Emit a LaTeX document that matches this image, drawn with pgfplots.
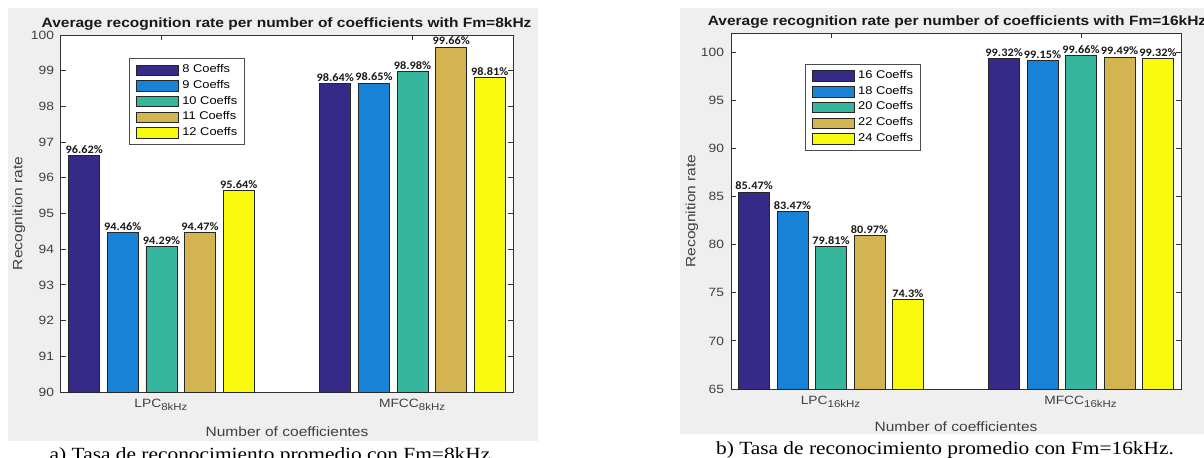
\documentclass[border=0pt]{standalone}
\usepackage{pgfplots}
\pgfplotsset{compat=1.18}
\usepackage{fontspec}
\setmainfont{Liberation Sans}[FakeStretch=1.15]
\newfontfamily\capfont{Liberation Serif}[FakeStretch=1.15]
\newfontfamily\valfont{Carlito}[FakeStretch=1.08]

\definecolor{c1}{RGB}{53,42,135}
\definecolor{c2}{RGB}{24,130,214}
\definecolor{c3}{RGB}{54,183,157}
\definecolor{c4}{RGB}{212,180,80}
\definecolor{c5}{RGB}{249,250,14}
\definecolor{bgc}{RGB}{239,239,239}
\definecolor{axc}{RGB}{50,50,50}

\pgfplotsset{
  mybars/.style={
    scale only axis,
    axis background/.style={fill=white},
    xmin=0.6, xmax=2.4, xtick={1,2},
    tick align=inside, major tick length=2.5pt,
    axis line style={axc, line width=0.5pt},
    tick style={axc, line width=0.5pt},
    tick label style={font=\fontsize{6}{7}\selectfont, text=black!75},
    /pgf/number format/assume math mode=true,
    label style={font=\fontsize{6.75}{8}\selectfont, text=black!75},
    legend cell align=left,
    legend style={draw=black!70, line width=0.5pt, fill=white,
      font=\fontsize{5.6}{6.5}\selectfont, inner xsep=3.2pt, inner ysep=2.4pt,
      row sep=1.1pt, column sep=1.2pt, nodes={inner sep=0.6pt}},
    nodes near coords={\pgfmathprintnumber[fixed,precision=2]{\pgfplotspointmeta}\%},
    point meta=explicit,
    nodes near coords style={font=\valfont\bfseries\fontsize{5.7}{6}\selectfont,
      text=black!90, inner sep=0.9pt, anchor=south},
  },
  sb/.style={ybar, bar width=0.1236, bar shift=0pt, fill=#1,
    draw=black!85, line width=0.4pt, forget plot},
  lg/.style={legend image code/.code={\draw[fill=#1, draw=black!85, line width=0.4pt]
      (0pt,-2.6pt) rectangle (21pt,2.6pt);}},
}

\begin{document}
\begin{tikzpicture}
\fill[white] (0pt,0pt) rectangle (602pt,228.5pt);
\useasboundingbox (0pt,0pt) rectangle (602pt,228.5pt);
\fill[bgc] (4pt,8pt) rectangle (269pt,224.5pt);
\fill[bgc] (340pt,11.5pt) rectangle (602pt,224.5pt);

% ---------- left panel ----------
\begin{axis}[mybars,
  at={(30.5pt,32.5pt)}, anchor=south west,
  width=226pt, height=178.5pt,
  ymin=90, ymax=100, ytick={90,91,...,100},
  xticklabels={LPC\textsubscript{8kHz}, MFCC\textsubscript{8kHz}},
  xlabel={Number of coefficientes},
  ylabel={Recognition rate},
  xlabel style={at={(axis description cs:0.5,0)}, anchor=center, yshift=-20pt},
  ylabel style={at={(axis description cs:-0.093,0.5)}, anchor=center},
  legend style={at={(0.1505,0.935)}, anchor=north west},
]
% bars of each group sit at group +/- 0.1538*k
\addplot[sb=c1] coordinates {(0.6924,96.62) [96.62] (1.6924,98.64) [98.64]};
\addplot[sb=c2] coordinates {(0.8462,94.46) [94.46] (1.8462,98.65) [98.65]};
\addplot[sb=c3] coordinates {(1.0000,94.08) [94.29] (2.0000,98.98) [98.98]};
\addplot[sb=c4] coordinates {(1.1538,94.47) [94.47] (2.1538,99.66) [99.66]};
\addplot[sb=c5] coordinates {(1.3076,95.64) [95.64] (2.3076,98.81) [98.81]};
\addlegendimage{lg=c1}\addlegendentry{8 Coeffs}
\addlegendimage{lg=c2}\addlegendentry{9 Coeffs}
\addlegendimage{lg=c3}\addlegendentry{10 Coeffs}
\addlegendimage{lg=c4}\addlegendentry{11 Coeffs}
\addlegendimage{lg=c5}\addlegendentry{12 Coeffs}
\end{axis}

% ---------- right panel ----------
\begin{axis}[mybars,
  at={(365.5pt,34pt)}, anchor=south west,
  width=225pt, height=178pt,
  ymin=65, ymax=102, ytick={65,70,...,100},
  xticklabels={LPC\textsubscript{16kHz}, MFCC\textsubscript{16kHz}},
  xlabel={Number of coefficientes},
  ylabel={Recognition rate},
  xlabel style={at={(axis description cs:0.5,0)}, anchor=center, yshift=-19pt},
  ylabel style={at={(axis description cs:-0.0867,0.5)}, anchor=center},
  legend style={at={(0.164,0.913)}, anchor=north west},
]
\addplot[sb=c1] coordinates {(0.6924,85.47) [85.47] (1.6924,99.32) [99.32]};
\addplot[sb=c2] coordinates {(0.8462,83.47) [83.47] (1.8462,99.15) [99.15]};
\addplot[sb=c3] coordinates {(1.0000,79.81) [79.81] (2.0000,99.66) [99.66]};
\addplot[sb=c4] coordinates {(1.1538,80.97) [80.97] (2.1538,99.49) [99.49]};
\addplot[sb=c5] coordinates {(1.3076,74.3) [74.3] (2.3076,99.32) [99.32]};
\addlegendimage{lg=c1}\addlegendentry{16 Coeffs}
\addlegendimage{lg=c2}\addlegendentry{18 Coeffs}
\addlegendimage{lg=c3}\addlegendentry{20 Coeffs}
\addlegendimage{lg=c4}\addlegendentry{22 Coeffs}
\addlegendimage{lg=c5}\addlegendentry{24 Coeffs}
\end{axis}

% ---------- titles and captions ----------
\node[anchor=base, font=\bfseries\fontsize{6.75}{8}\selectfont, text=black!90]
  at (143.3pt,215pt) {Average recognition rate per number of coefficients with Fm=8kHz};
\node[anchor=base, font=\bfseries\fontsize{6.75}{8}\selectfont, text=black!90]
  at (478.5pt,216pt) {Average recognition rate per number of coefficients with Fm=16kHz};
\node[anchor=base, font=\capfont\fontsize{9.3}{11}\selectfont, inner sep=0pt]
  at (135pt,-1.5pt) {a) Tasa de reconocimiento promedio con Fm=8kHz};
\node[anchor=base, font=\capfont\fontsize{9.3}{11}\selectfont, inner sep=0pt]
  at (472.5pt,1.5pt) {b) Tasa de reconocimiento promedio con Fm=16kHz.};
\end{tikzpicture}
\end{document}
